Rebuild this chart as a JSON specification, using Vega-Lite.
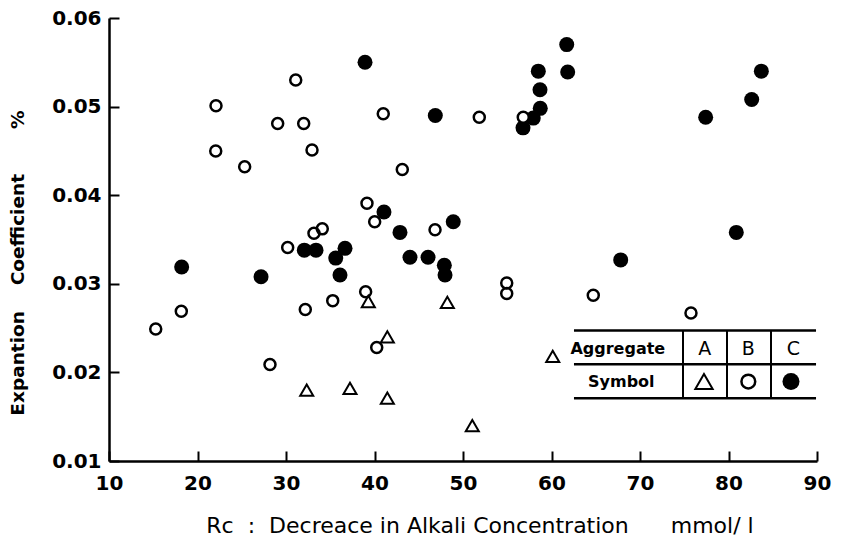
{
  "$schema": "https://vega.github.io/schema/vega-lite/v6.json",
  "width": 708,
  "height": 443,
  "autosize": {"type": "none"},
  "padding": {"left": 109, "top": 18, "right": 25, "bottom": 79},
  "background": "white",
  "config": {
    "font": "DejaVu Sans",
    "view": {"stroke": null},
    "axis": {
      "grid": false,
      "domainColor": "black",
      "domainWidth": 2.5,
      "tickColor": "black",
      "tickWidth": 2,
      "tickSize": -10,
      "labelColor": "black",
      "labelFont": "DejaVu Sans",
      "labelFontSize": 20,
      "labelFontWeight": "bold",
      "labelFlush": false,
      "labelOverlap": false,
      "titleColor": "black",
      "titleFont": "DejaVu Sans"
    }
  },
  "datasets": {
    "points": [
      {"x": 31.10, "y": 0.0530, "agg": "B"},
      {"x": 22.09, "y": 0.0501, "agg": "B"},
      {"x": 40.99, "y": 0.0492, "agg": "B"},
      {"x": 29.06, "y": 0.0481, "agg": "B"},
      {"x": 32.00, "y": 0.0481, "agg": "B"},
      {"x": 22.06, "y": 0.0450, "agg": "B"},
      {"x": 32.94, "y": 0.0451, "agg": "B"},
      {"x": 25.33, "y": 0.0432, "agg": "B"},
      {"x": 43.14, "y": 0.0429, "agg": "B"},
      {"x": 39.15, "y": 0.0391, "agg": "B"},
      {"x": 40.02, "y": 0.0370, "agg": "B"},
      {"x": 46.84, "y": 0.0361, "agg": "B"},
      {"x": 33.16, "y": 0.0357, "agg": "B"},
      {"x": 34.10, "y": 0.0362, "agg": "B"},
      {"x": 51.84, "y": 0.0488, "agg": "B"},
      {"x": 56.81, "y": 0.0488, "agg": "B"},
      {"x": 30.19, "y": 0.0341, "agg": "B"},
      {"x": 39.00, "y": 0.0291, "agg": "B"},
      {"x": 35.28, "y": 0.0281, "agg": "B"},
      {"x": 32.18, "y": 0.0271, "agg": "B"},
      {"x": 18.17, "y": 0.0269, "agg": "B"},
      {"x": 15.28, "y": 0.0249, "agg": "B"},
      {"x": 40.25, "y": 0.0228, "agg": "B"},
      {"x": 28.19, "y": 0.0209, "agg": "B"},
      {"x": 54.94, "y": 0.0301, "agg": "B"},
      {"x": 54.94, "y": 0.0289, "agg": "B"},
      {"x": 64.72, "y": 0.0287, "agg": "B"},
      {"x": 75.76, "y": 0.0267, "agg": "B"},
      {"x": 38.93, "y": 0.0550, "agg": "C"},
      {"x": 46.87, "y": 0.0490, "agg": "C"},
      {"x": 61.72, "y": 0.0570, "agg": "C"},
      {"x": 58.51, "y": 0.0540, "agg": "C"},
      {"x": 61.83, "y": 0.0539, "agg": "C"},
      {"x": 58.70, "y": 0.0519, "agg": "C"},
      {"x": 58.73, "y": 0.0498, "agg": "C"},
      {"x": 57.94, "y": 0.0487, "agg": "C"},
      {"x": 56.78, "y": 0.0476, "agg": "C"},
      {"x": 83.71, "y": 0.0540, "agg": "C"},
      {"x": 82.62, "y": 0.0508, "agg": "C"},
      {"x": 77.42, "y": 0.0488, "agg": "C"},
      {"x": 80.88, "y": 0.0358, "agg": "C"},
      {"x": 41.07, "y": 0.0381, "agg": "C"},
      {"x": 42.88, "y": 0.0358, "agg": "C"},
      {"x": 48.90, "y": 0.0370, "agg": "C"},
      {"x": 32.07, "y": 0.0338, "agg": "C"},
      {"x": 33.39, "y": 0.0338, "agg": "C"},
      {"x": 36.67, "y": 0.0340, "agg": "C"},
      {"x": 35.62, "y": 0.0329, "agg": "C"},
      {"x": 44.01, "y": 0.0330, "agg": "C"},
      {"x": 46.05, "y": 0.0330, "agg": "C"},
      {"x": 47.89, "y": 0.0321, "agg": "C"},
      {"x": 47.97, "y": 0.0310, "agg": "C"},
      {"x": 36.10, "y": 0.0310, "agg": "C"},
      {"x": 18.21, "y": 0.0319, "agg": "C"},
      {"x": 27.18, "y": 0.0308, "agg": "C"},
      {"x": 67.82, "y": 0.0327, "agg": "C"},
      {"x": 39.30, "y": 0.0280, "agg": "A"},
      {"x": 48.23, "y": 0.0279, "agg": "A"},
      {"x": 41.45, "y": 0.0240, "agg": "A"},
      {"x": 60.14, "y": 0.0218, "agg": "A"},
      {"x": 32.34, "y": 0.0180, "agg": "A"},
      {"x": 37.23, "y": 0.0182, "agg": "A"},
      {"x": 41.45, "y": 0.0171, "agg": "A"},
      {"x": 51.05, "y": 0.0140, "agg": "A"}
    ],
    "table_h": [
      {"x": 62.54, "x2": 89.89, "y": 0.02472},
      {"x": 62.54, "x2": 89.89, "y": 0.02092},
      {"x": 62.54, "x2": 89.89, "y": 0.01708}
    ],
    "table_v": [
      {"x": 74.86, "y": 0.02472, "y2": 0.01708},
      {"x": 79.83, "y": 0.02472, "y2": 0.01708},
      {"x": 84.80, "y": 0.02472, "y2": 0.01708}
    ],
    "table_text": [
      {"x": 67.49, "y": 0.02267, "label": "Aggregate"},
      {"x": 67.89, "y": 0.01892, "label": "Symbol"},
      {"x": 77.32, "y": 0.02267, "label": "A"},
      {"x": 82.24, "y": 0.02267, "label": "B"},
      {"x": 87.32, "y": 0.02267, "label": "C"}
    ],
    "legend_sym": [
      {"x": 77.23, "y": 0.01896, "agg": "A"},
      {"x": 82.24, "y": 0.01896, "agg": "B"},
      {"x": 87.06, "y": 0.01896, "agg": "C"}
    ]
  },
  "encoding": {
    "x": {
      "field": "x",
      "type": "quantitative",
      "scale": {"domain": [10, 90], "nice": false, "zero": false},
      "axis": {
        "values": [10, 20, 30, 40, 50, 60, 70, 80, 90],
        "format": "d",
        "labelPadding": 22,
        "title": "Rc\u00a0\u00a0:\u00a0\u00a0Decreace in Alkali Concentration\u00a0\u00a0\u00a0\u00a0\u00a0\u00a0mmol/ l",
        "titleFontSize": 22,
        "titleFontWeight": "normal",
        "titleX": 370.5,
        "titleY": 71,
        "titleBaseline": "alphabetic",
        "titleAlign": "center"
      }
    },
    "y": {
      "field": "y",
      "type": "quantitative",
      "scale": {"domain": [0.01, 0.06], "nice": false, "zero": false},
      "axis": {
        "values": [0.01, 0.02, 0.03, 0.04, 0.05, 0.06],
        "format": ".2f",
        "labelPadding": 18,
        "title": "Expantion\u00a0\u00a0\u00a0\u00a0Coefficient\u00a0\u00a0\u00a0\u00a0\u00a0\u00a0\u00a0%",
        "titleFontSize": 18.5,
        "titleFontWeight": "bold",
        "titleAngle": -90,
        "titleX": -86,
        "titleY": 244.5,
        "titleBaseline": "alphabetic",
        "titleAlign": "center"
      }
    }
  },
  "layer": [
    {
      "data": {"name": "table_h"},
      "mark": {"type": "rule", "color": "black", "strokeWidth": 2.5},
      "encoding": {"x2": {"field": "x2"}}
    },
    {
      "data": {"name": "table_v"},
      "mark": {"type": "rule", "color": "black", "strokeWidth": 2},
      "encoding": {"y2": {"field": "y2"}}
    },
    {
      "data": {"name": "table_text"},
      "transform": [{"filter": "length(datum.label) > 1"}],
      "mark": {"type": "text", "font": "DejaVu Sans", "fontSize": 16, "fontWeight": "bold", "color": "black", "align": "center", "baseline": "middle"},
      "encoding": {"text": {"field": "label"}}
    },
    {
      "data": {"name": "table_text"},
      "transform": [{"filter": "length(datum.label) == 1"}],
      "mark": {"type": "text", "font": "DejaVu Sans", "fontSize": 19, "fontWeight": "normal", "color": "black", "align": "center", "baseline": "middle"},
      "encoding": {"text": {"field": "label"}}
    },
    {
      "data": {"name": "points"},
      "transform": [{"filter": "datum.agg == 'C'"}],
      "mark": {"type": "point", "shape": "circle", "filled": true, "color": "black", "size": 225, "opacity": 1}
    },
    {
      "data": {"name": "points"},
      "transform": [{"filter": "datum.agg == 'B'"}],
      "mark": {"type": "point", "shape": "circle", "filled": true, "color": "white", "size": 121, "opacity": 1}
    },
    {
      "data": {"name": "points"},
      "transform": [{"filter": "datum.agg == 'B'"}],
      "mark": {"type": "point", "shape": "circle", "filled": false, "color": "black", "strokeWidth": 2.5, "size": 121, "opacity": 1}
    },
    {
      "data": {"name": "points"},
      "transform": [{"filter": "datum.agg == 'A'"}],
      "mark": {"type": "point", "shape": "triangle-up", "filled": false, "color": "black", "strokeWidth": 2, "size": 170, "opacity": 1}
    },
    {
      "data": {"name": "legend_sym"},
      "transform": [{"filter": "datum.agg == 'A'"}],
      "mark": {"type": "point", "shape": "triangle-up", "filled": false, "color": "black", "strokeWidth": 2, "size": 300, "opacity": 1}
    },
    {
      "data": {"name": "legend_sym"},
      "transform": [{"filter": "datum.agg == 'B'"}],
      "mark": {"type": "point", "shape": "circle", "filled": false, "color": "black", "strokeWidth": 2.5, "size": 190, "opacity": 1}
    },
    {
      "data": {"name": "legend_sym"},
      "transform": [{"filter": "datum.agg == 'C'"}],
      "mark": {"type": "point", "shape": "circle", "filled": true, "color": "black", "size": 289, "opacity": 1}
    }
  ]
}
